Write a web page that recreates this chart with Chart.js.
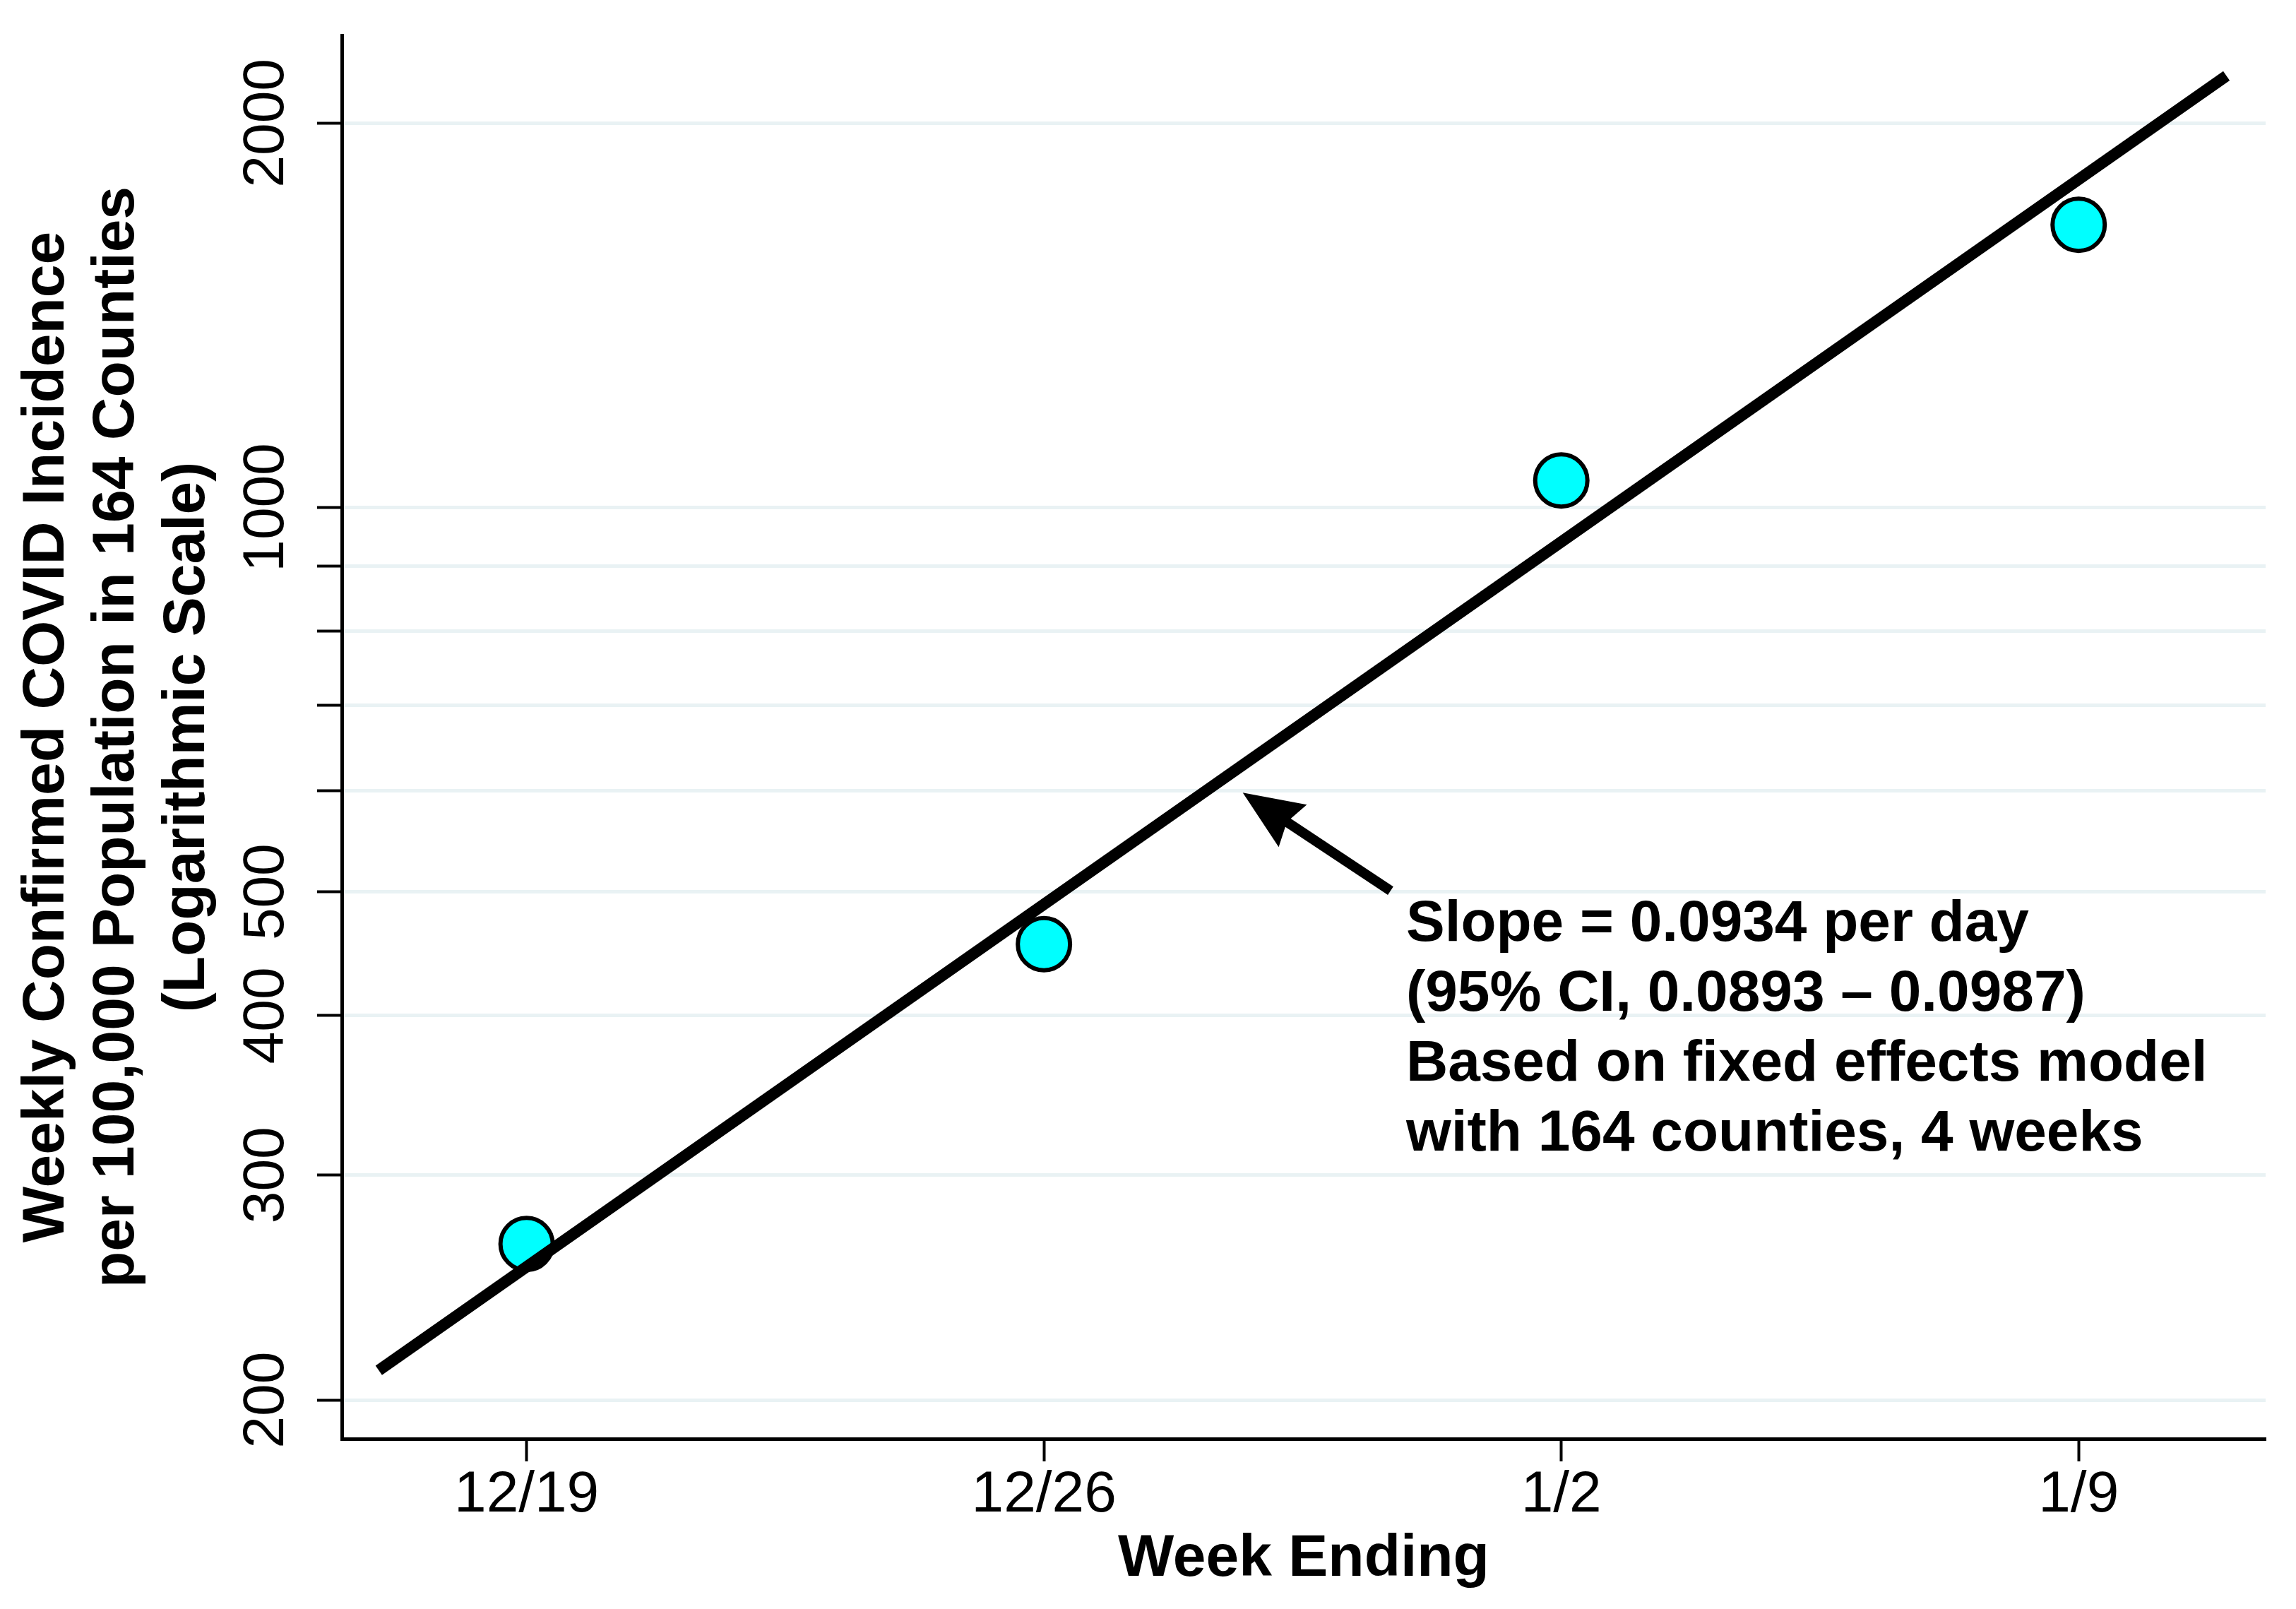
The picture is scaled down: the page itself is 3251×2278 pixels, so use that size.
<!DOCTYPE html>
<html>
<head>
<meta charset="utf-8">
<title>Weekly COVID incidence, 164 counties</title>
<script src="https://cdn.jsdelivr.net/npm/chart.js@4/dist/chart.umd.min.js"></script>
<style>
    html, body { margin: 0; padding: 0; background: #ffffff; }
    canvas { display: block; }
</style>
</head>
<body>
<canvas id="incidenceChart" width="3251" height="2278"></canvas>
<script>
// Chart data
const weekLabels = ['12/19', '12/26', '1/2', '1/9'];
const weekDays = [0, 7, 14, 21];            // days since week ending 12/19
const incidence = [265, 455, 1050, 1665];   // weekly cases per 100,000

// Fitted line (fixed effects model), end points
const fitDays = [-2, 23];
const fitValues = [211, 2178];

// Y axis ticks (log scale)
const yTickValues = [200, 300, 400, 500, 600, 700, 800, 900, 1000, 2000];
const yLabelledTicks = [200, 300, 400, 500, 1000, 2000];

// Annotation
const annotationLines = [
    'Slope = 0.0934 per day',
    '(95% CI, 0.0893 \u2013 0.0987)',
    'Based on fixed effects model',
    'with 164 counties, 4 weeks'
];
const arrowTip = { x: 9.69, y: 598 };
const arrowTail = { x: 11.69, y: 501 };
const textAnchor = { x: 11.9, y: 458 };

const FONT = '"Liberation Sans", Arial, Helvetica, sans-serif';

/**
 * Draws the arrow and the slope text in data coordinates
 */
const annotationPlugin = {
    id: 'slopeNote',
    afterDatasetsDraw(chart) {
        const ctx = chart.ctx;
        const xs = chart.scales.x;
        const ys = chart.scales.y;

        const tx = xs.getPixelForValue(arrowTip.x);
        const ty = ys.getPixelForValue(arrowTip.y);
        const sx = xs.getPixelForValue(arrowTail.x);
        const sy = ys.getPixelForValue(arrowTail.y);

        const len = Math.hypot(tx - sx, ty - sy);
        const ux = (tx - sx) / len;
        const uy = (ty - sy) / len;
        const headLen = 85, headHalf = 36, notch = 75;

        ctx.save();
        ctx.strokeStyle = '#000';
        ctx.fillStyle = '#000';
        ctx.lineWidth = 14;
        ctx.lineCap = 'butt';
        ctx.beginPath();
        ctx.moveTo(sx, sy);
        ctx.lineTo(tx - ux * (notch - 2), ty - uy * (notch - 2));
        ctx.stroke();

        // barbed head
        const bx = tx - ux * headLen;
        const by = ty - uy * headLen;
        ctx.beginPath();
        ctx.moveTo(tx, ty);
        ctx.lineTo(bx - uy * headHalf, by + ux * headHalf);
        ctx.lineTo(tx - ux * notch, ty - uy * notch);
        ctx.lineTo(bx + uy * headHalf, by - ux * headHalf);
        ctx.closePath();
        ctx.fill();

        // text block
        const px = xs.getPixelForValue(textAnchor.x);
        const py = ys.getPixelForValue(textAnchor.y);
        ctx.font = 'bold 82px ' + FONT;
        ctx.textAlign = 'left';
        ctx.textBaseline = 'alphabetic';
        annotationLines.forEach((line, i) => {
            ctx.fillText(line, px, py + i * 99);
        });
        ctx.restore();
    }
};

const ctx = document.getElementById('incidenceChart').getContext('2d');

new Chart(ctx, {
    type: 'scatter',
    data: {
        datasets: [
            {
                // fitted line first so it is drawn on top of the markers
                label: 'Fit',
                data: fitDays.map((d, i) => ({ x: d, y: fitValues[i] })),
                showLine: true,
                borderColor: '#000',
                borderWidth: 16,
                pointRadius: 0,
                fill: false
            },
            {
                label: 'Incidence',
                data: weekDays.map((d, i) => ({ x: d, y: incidence[i] })),
                pointRadius: 37,
                pointBorderWidth: 6,
                backgroundColor: '#00ffff',
                borderColor: '#000',
                pointBackgroundColor: '#00ffff',
                pointBorderColor: '#000'
            }
        ]
    },
    options: {
        responsive: false,
        animation: false,
        devicePixelRatio: 1,
        events: [],
        layout: {
            padding: { left: 0, right: 42, top: 50, bottom: 0 }
        },
        plugins: {
            legend: { display: false },
            tooltip: { enabled: false }
        },
        scales: {
            x: {
                type: 'linear',
                position: 'bottom',
                min: -2.5,
                max: 23.53,
                afterBuildTicks: (scale) => {
                    scale.ticks = weekDays.map(v => ({ value: v }));
                },
                afterFit: (scale) => { scale.height = 241; },
                ticks: {
                    autoSkip: false,
                    maxRotation: 0,
                    minRotation: 0,
                    padding: 7,
                    color: '#000',
                    font: { family: FONT, size: 82, lineHeight: 1 },
                    callback: (value) => {
                        const i = weekDays.indexOf(value);
                        return i >= 0 ? weekLabels[i] : '';
                    }
                },
                grid: {
                    display: true,
                    drawOnChartArea: false,
                    drawTicks: true,
                    tickLength: 32,
                    tickWidth: 4,
                    tickColor: '#000'
                },
                border: { display: true, color: '#000', width: 5 },
                title: {
                    display: true,
                    text: 'Week Ending',
                    color: '#000',
                    font: { family: FONT, size: 84, weight: 'bold', lineHeight: 1.2 },
                    padding: { top: 0, bottom: 20 }
                }
            },
            y: {
                type: 'logarithmic',
                position: 'left',
                min: 186.5,
                max: 2343,
                afterBuildTicks: (scale) => {
                    scale.ticks = yTickValues.map(v => ({ value: v }));
                },
                afterFit: (scale) => { scale.width = 484; },
                ticks: {
                    autoSkip: false,
                    minRotation: 90,
                    maxRotation: 90,
                    crossAlign: 'center',
                    padding: -21,
                    color: '#000',
                    font: { family: FONT, size: 82 },
                    callback: (value) => yLabelledTicks.includes(value) ? String(value) : ''
                },
                grid: {
                    display: true,
                    drawOnChartArea: true,
                    color: '#e9f2f4',
                    lineWidth: 5,
                    drawTicks: true,
                    tickLength: 35,
                    tickWidth: 4,
                    tickColor: '#000'
                },
                border: { display: true, color: '#000', width: 5 },
                title: {
                    display: true,
                    text: [
                        'Weekly Confirmed COVID Incidence',
                        'per 100,000 Population in 164 Counties',
                        '(Logarithmic Scale)'
                    ],
                    color: '#000',
                    font: { family: FONT, size: 84, weight: 'bold', lineHeight: 1.185 },
                    padding: { top: 17, bottom: 0 }
                }
            }
        }
    },
    plugins: [annotationPlugin]
});
</script>
</body>
</html>
